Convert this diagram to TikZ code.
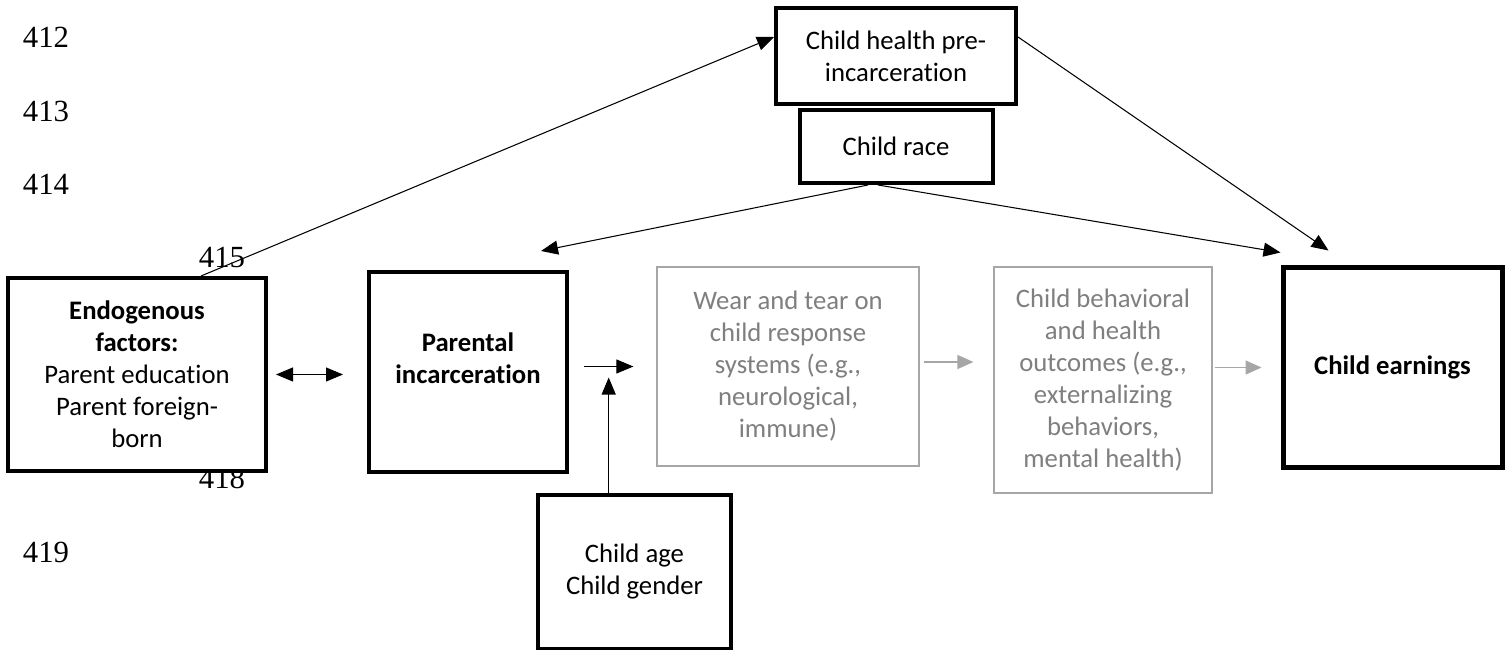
\documentclass[tikz,border=0pt]{standalone}
\usepackage{fontspec}
\setmainfont{Carlito}[Ligatures=NoCommon]
\newfontfamily\numserif{Liberation Serif}
\usepackage{xcolor}
\usetikzlibrary{positioning, arrows.meta, calc}
\definecolor{GrayLine}{HTML}{A6A6A6}
\definecolor{GrayText}{HTML}{7F7F7F}
\newcommand{\boxfont}{\fontsize{15.2}{18.2}\selectfont}
\newcommand{\numfont}{\numserif\fontsize{17.5}{20}\selectfont}
\tikzset{
  box/.style={draw, fill=white, align=center, font=\boxfont, inner sep=2pt},
  main/.style={line width=0.08cm},
  faded/.style={draw=GrayLine, line width=0.7pt, text=GrayText},
  arr/.style={-{Triangle[length=0.34cm, width=0.28cm]}, line width=0.6pt},
  arr2/.style={{Triangle[length=0.34cm, width=0.28cm]}-{Triangle[length=0.34cm, width=0.28cm]}, line width=0.6pt},
  garr/.style={-{Triangle[length=0.32cm, width=0.28cm]}, line width=0.8pt, draw=GrayLine},
  linenum/.style={font=\numfont, inner sep=0pt},
}

\begin{document}
\begin{tikzpicture}
  \useasboundingbox (0,0) rectangle (30.12,-13);

  % ---- line numbers of the page (behind the boxes) ----
  \node[linenum] (n412) at (0.92,-0.74)  {412};
  \node[linenum] (n413) at (0.92,-2.22)  {413};
  \node[linenum] (n414) at (0.92,-3.68)  {414};
  \node[linenum] (n415) at (4.44,-5.16)  {415};
  \node[linenum] (n418) at (4.44,-9.56)  {418};
  \node[linenum] (n419) at (0.92,-11.04) {419};

  % ---- upper row: confounders ----
  \node[box, main, minimum width=4.8cm, minimum height=1.92cm] (health) at (17.92,-1.12)
       {Child health pre-\\incarceration};
  \node[box, main, minimum width=3.86cm, minimum height=1.46cm] (race) at (17.92,-2.93)
       {Child race};

  % ---- main chain ----
  \node[box, main, minimum width=5.16cm, minimum height=3.86cm] (endo) at (2.74,-7.49)
       {\textbf{Endogenous}\\\textbf{factors:}\\Parent education\\Parent foreign-\\born};
  \node[box, main, minimum width=3.96cm, minimum height=4cm] (parent) at (9.36,-7.44) {};
  \node[font=\boxfont\bfseries, align=center, inner sep=0pt] (parenttxt)
       at ([yshift=0.28cm]parent.center) {Parental\\incarceration};
  \node[box, faded, minimum width=5.24cm, minimum height=3.98cm] (wear) at (15.76,-7.33)
       {Wear and tear on\\child response\\systems (e.g.,\\neurological,\\immune)};
  \node[box, faded, minimum width=4.36cm, minimum height=4.52cm] (behav) at (22.06,-7.6)
       {Child behavioral\\and health\\outcomes (e.g.,\\externalizing\\behaviors,\\mental health)};
  \node[box, line width=0.1cm, minimum width=4.38cm, minimum height=3.98cm] (earn) at (27.85,-7.35)
       {\textbf{Child earnings}};

  % ---- moderators ----
  \node[box, main, minimum width=3.86cm, minimum height=3.08cm] (age) at (12.69,-11.44)
       {Child age\\Child gender};

  % ---- connectors ----
  \draw[arr] ([xshift=1.28cm]endo.north) -- ([yshift=0.38cm]health.west);
  \draw[arr] ([xshift=-0.56cm]race.south) -- ([xshift=-0.56cm,yshift=0.38cm]parent.north east);
  \draw[arr] ([xshift=-0.36cm]race.south) -- ([yshift=0.26cm]earn.north west);
  \draw[arr] ([yshift=0.38cm]health.east) -- ([xshift=0.96cm,yshift=0.3cm]earn.north west);
  \draw[arr2] ([xshift=0.16cm]endo.east) -- ([xshift=-0.48cm]endo.east -| parent.west);
  \draw[arr] ([xshift=0.3cm]parent.east |- wear.west) -- coordinate[pos=0.5] (mid)
       ([xshift=-0.46cm]wear.west);
  \draw[arr] (age.north -| mid) -- ([yshift=-0.22cm]mid);
  \draw[garr] ([xshift=0.08cm,yshift=0.09cm]wear.east) -- ([xshift=-0.4cm,yshift=0.09cm]wear.east -| behav.west);
  \draw[garr] ([xshift=0.04cm]behav.east |- earn.west) -- ([xshift=-0.38cm]earn.west);
\end{tikzpicture}
\end{document}
